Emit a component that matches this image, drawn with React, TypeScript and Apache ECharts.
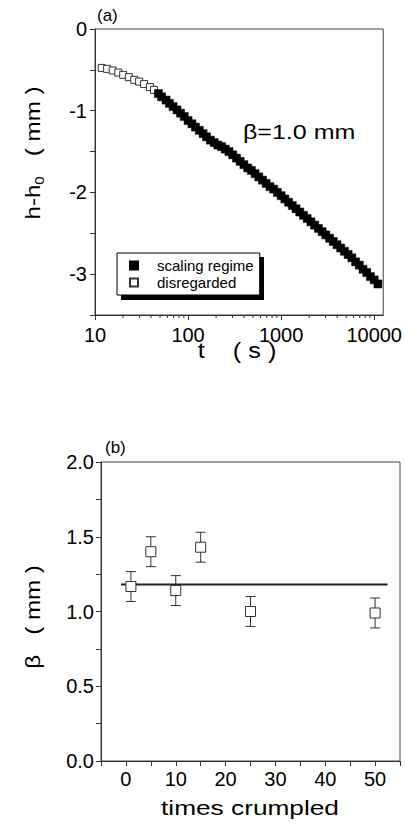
import React, { useEffect, useRef } from "react";
import * as echarts from "echarts";

// ---- Panel (a): h - h0 vs t (log) ----
const disregardedT = [11.8, 13.5, 15.5, 17.8, 20.1, 23.1, 26.4, 29.8, 33.7, 38.9, 43];
const disregardedH = [-0.476, -0.488, -0.508, -0.533, -0.561, -0.589, -0.622, -0.643, -0.674, -0.711, -0.745];

const scalingT = [48, 52, 58, 63, 69, 76, 83, 91, 100, 110, 120, 132, 145, 158, 174, 191, 209, 229, 251, 275, 302, 331, 363, 398, 437, 479, 525, 575, 631, 692, 759, 832, 912, 1000, 1096, 1202, 1318, 1445, 1585, 1738, 1905, 2089, 2291, 2512, 2754, 3020, 3311, 3631, 3981, 4365, 4786, 5248, 5754, 6310, 6918, 7586, 8318, 9120, 10000, 10965];
const scalingH = [-0.79, -0.83, -0.87, -0.91, -0.95, -0.99, -1.03, -1.07, -1.12, -1.16, -1.2, -1.24, -1.28, -1.32, -1.36, -1.39, -1.42, -1.44, -1.47, -1.5, -1.54, -1.58, -1.62, -1.66, -1.7, -1.73, -1.77, -1.81, -1.85, -1.89, -1.93, -1.96, -2.0, -2.04, -2.08, -2.12, -2.16, -2.2, -2.24, -2.28, -2.32, -2.36, -2.4, -2.44, -2.48, -2.52, -2.56, -2.6, -2.64, -2.68, -2.72, -2.76, -2.8, -2.85, -2.89, -2.94, -2.98, -3.03, -3.07, -3.12];

const logMinorTicks = [20, 30, 40, 50, 60, 70, 80, 90, 200, 300, 400, 500, 600, 700, 800, 900, 2000, 3000, 4000, 5000, 6000, 7000, 8000, 9000];

// ---- Panel (b): beta vs times crumpled ----
const timesCrumpled = [1, 5, 10, 15, 25, 50];
const betaValues = [1.167, 1.4, 1.14, 1.43, 1.0, 0.99];
const betaErrors = [0.1, 0.1, 0.1, 0.1, 0.1, 0.1];
const fitLevel = 1.18;
const fitRange = [-1, 52.5];

const FONT = "Liberation Sans, Arial, sans-serif";
const AX = "#333";

export default function App() {
  const ref = useRef<HTMLDivElement>(null);
  useEffect(() => {
    if (!ref.current) return;
    const chart = echarts.init(ref.current, null, { renderer: "svg" });

    const scalingData = scalingT.map((t, i) => [t, scalingH[i]]);
    const disregardedData = disregardedT.map((t, i) => [t, disregardedH[i]]);
    const minorData = logMinorTicks.map((t) => [t, -3.5]);
    const betaData = timesCrumpled.map((x, i) => [x, betaValues[i]]);
    const errData = timesCrumpled.map((x, i) => [x, betaValues[i], betaErrors[i]]);
    const fitData = fitRange.map((x) => [x, fitLevel]);

    const axisCommon = {
      axisLine: { show: true, onZero: false, lineStyle: { color: AX, width: 1 } },
      axisTick: { show: true, inside: false, length: 5, lineStyle: { color: AX } },
      splitLine: { show: false },
    };

    chart.setOption({
      animation: false,
      backgroundColor: "#fff",
      grid: [
        { left: 95, top: 29, width: 290, height: 286, show: true, borderColor: "#444", borderWidth: 1, backgroundColor: "transparent" },
        { left: 101, top: 462, width: 299, height: 299, show: true, borderColor: "#444", borderWidth: 1, backgroundColor: "transparent" },
      ],
      xAxis: [
        {
          ...axisCommon,
          type: "log",
          logBase: 10,
          gridIndex: 0,
          min: 10,
          max: 12500,
          axisLabel: {
            fontSize: 20,
            fontFamily: FONT,
            color: "#000",
            margin: 10,
            showMaxLabel: false,
            showMinLabel: true,
            formatter: (v: number) => String(Math.round(v)),
          },
        },
        {
          ...axisCommon,
          type: "value",
          gridIndex: 1,
          min: -5,
          max: 55,
          interval: 5,
          axisLabel: {
            fontSize: 20,
            fontFamily: FONT,
            color: "#000",
            margin: 8,
            formatter: (v: number) => (v % 10 === 0 ? String(v) : ""),
          },
        },
      ],
      yAxis: [
        {
          ...axisCommon,
          type: "value",
          gridIndex: 0,
          min: -3.5,
          max: 0,
          interval: 0.5,
          axisLabel: {
            fontSize: 20,
            fontFamily: FONT,
            color: "#000",
            margin: 8,
            formatter: (v: number) => (Number.isInteger(v) ? String(v) : ""),
          },
        },
        {
          ...axisCommon,
          type: "value",
          gridIndex: 1,
          min: 0,
          max: 2,
          interval: 0.25,
          axisLabel: {
            fontSize: 20,
            fontFamily: FONT,
            color: "#000",
            margin: 7,
            formatter: (v: number) => (Math.abs(v * 2 - Math.round(v * 2)) < 1e-9 ? v.toFixed(1) : ""),
          },
        },
      ],
      legend: {
        show: true,
        orient: "vertical",
        left: 117,
        top: 253,
        padding: [5, 6, 5, 12],
        itemGap: 2,
        itemWidth: 8,
        itemHeight: 8,
        backgroundColor: "#fff",
        borderColor: "#000",
        borderWidth: 1,
        z: 20,
        data: [
          { name: "scaling regime", icon: "rect" },
          { name: "disregarded", icon: "rect" },
        ],
        textStyle: { fontSize: 15, fontFamily: FONT, color: "#000", padding: [0, 0, 0, 14] },
      },
      graphic: [
        { type: "rect", z: 19, shape: { x: 121, y: 257, width: 143, height: 43 }, style: { fill: "#000" } },
        { type: "text", x: 97, y: 15, style: { text: "(a)", fontSize: 17, fontFamily: FONT, fill: "#000", verticalAlign: "middle" } },
        { type: "text", x: 105, y: 447, style: { text: "(b)", fontSize: 17, fontFamily: FONT, fill: "#000", verticalAlign: "middle" } },
        { type: "text", x: 243, y: 132, scaleX: 1.25, style: { text: "β=1.0 mm", fontSize: 20, fontFamily: FONT, fill: "#000", verticalAlign: "middle" } },
        { type: "text", x: 237, y: 351, scaleX: 1.15, style: { text: "t    ( s )", fontSize: 22, fontFamily: FONT, fill: "#000", align: "center", verticalAlign: "middle" } },
        { type: "text", x: 250, y: 807, scaleX: 1.25, style: { text: "times crumpled", fontSize: 21, fontFamily: FONT, fill: "#000", align: "center", verticalAlign: "middle" } },
        {
          type: "text",
          x: 33,
          y: 153,
          rotation: Math.PI / 2,
          scaleX: 1.15,
          style: {
            text: "{a|h-h}{s|0}{a|   ( mm )}",
            align: "center",
            verticalAlign: "middle",
            rich: {
              a: { fontSize: 21, fontFamily: FONT, fill: "#000", color: "#000" },
              s: { fontSize: 13, fontFamily: FONT, fill: "#000", color: "#000", padding: [12, 0, 0, 0] },
            },
          },
        },
        {
          type: "text",
          x: 33,
          y: 617,
          rotation: Math.PI / 2,
          scaleX: 1.15,
          style: { text: "β   ( mm )", fontSize: 21, fontFamily: FONT, fill: "#000", align: "center", verticalAlign: "middle" },
        },
      ],
      series: [
        {
          name: "disregarded",
          type: "scatter",
          xAxisIndex: 0,
          yAxisIndex: 0,
          symbol: "rect",
          symbolSize: 7,
          data: disregardedData,
          itemStyle: { color: "#fff", borderColor: "#333", borderWidth: 1, opacity: 1 },
          z: 3,
        },
        {
          name: "scaling regime",
          type: "scatter",
          xAxisIndex: 0,
          yAxisIndex: 0,
          symbol: "rect",
          symbolSize: 8,
          data: scalingData,
          itemStyle: { color: "#000", borderColor: "#000", borderWidth: 0.5, opacity: 1 },
          z: 4,
        },
        {
          name: "minorTicks",
          type: "custom",
          xAxisIndex: 0,
          yAxisIndex: 0,
          silent: true,
          clip: false,
          data: minorData,
          renderItem: (params: any, api: any) => {
            const p = api.coord([api.value(0), api.value(1)]);
            return { type: "line", shape: { x1: p[0], y1: p[1], x2: p[0], y2: p[1] + 3 }, style: { stroke: AX, lineWidth: 1 } };
          },
        },
        {
          name: "errors",
          type: "custom",
          xAxisIndex: 1,
          yAxisIndex: 1,
          silent: true,
          data: errData,
          z: 2,
          renderItem: (params: any, api: any) => {
            const x = api.value(0);
            const y = api.value(1);
            const e = api.value(2);
            const top = api.coord([x, y + e]);
            const bot = api.coord([x, y - e]);
            const w = 5;
            const st = { stroke: "#333", lineWidth: 1 };
            return {
              type: "group",
              children: [
                { type: "line", shape: { x1: top[0], y1: top[1], x2: bot[0], y2: bot[1] }, style: st },
                { type: "line", shape: { x1: top[0] - w, y1: top[1], x2: top[0] + w, y2: top[1] }, style: st },
                { type: "line", shape: { x1: bot[0] - w, y1: bot[1], x2: bot[0] + w, y2: bot[1] }, style: st },
              ],
            };
          },
        },
        {
          name: "fit",
          type: "line",
          xAxisIndex: 1,
          yAxisIndex: 1,
          data: fitData,
          symbol: "none",
          lineStyle: { color: "#222", width: 2 },
          z: 3,
        },
        {
          name: "beta",
          type: "scatter",
          xAxisIndex: 1,
          yAxisIndex: 1,
          symbol: "rect",
          symbolSize: 10,
          data: betaData,
          itemStyle: { color: "#fff", borderColor: "#333", borderWidth: 1, opacity: 1 },
          z: 4,
        },
      ],
    });
    return () => chart.dispose();
  }, []);
  return <div ref={ref} style={{ position: "fixed", left: 0, top: 0, width: 405, height: 831, background: "#fff" }} />;
}
